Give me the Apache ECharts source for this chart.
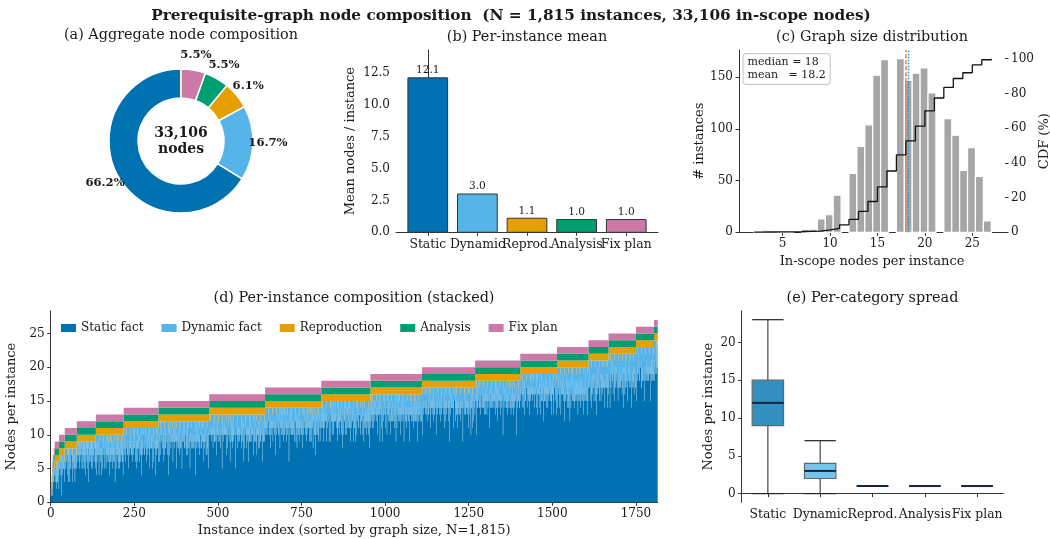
<!DOCTYPE html>
<html><head><meta charset="utf-8">
<script src="https://cdn.jsdelivr.net/npm/echarts@6/dist/echarts.min.js"></script>
<style>html,body{margin:0;padding:0;background:#fff}#c{width:1050px;height:539px}</style>
</head><body><div id="c"></div>
<script>
// ---------------- data ----------------
const categories   = ['Static', 'Dynamic', 'Reprod.', 'Analysis', 'Fix plan'];
const legendNames  = ['Static fact', 'Dynamic fact', 'Reproduction', 'Analysis', 'Fix plan'];
const aggregateCounts = [21920, 5529, 2020, 1822, 1815];   // total 33,106
const meanPerInstance = [12.1, 3.0, 1.1, 1.0, 1.0];
const graphSizes = [2,3,4,5,6,7,8,9,10,11,12,13,14,15,16,17,18,19,20,21,22,23,24,25,26,27];
const sizeCounts = [1,2,1,1,1,3,3,13,17,36,57,83,104,152,167,168,147,154,159,135,110,94,60,82,54,11];
const medianSize = 18;
const meanSize = 18.2;
// typical dynamic-fact count for each graph size
const typicalDynamic = [0,0,0,1,1,1,1,2,2,2,2,3,3,3,3,3,3,3,3,3,3,4,4,4,4,4];
// hand-read instance-to-instance wiggle of the dynamic layer
const dynamicWiggle = [0,1,0,-1,-1,2,0,-1,-1,1, 0,-3,-1,1,0,-1,3,-1,0,0, 1,-2,0,-1,2,-1,-1,0,1,0, 0,-1,4,-1,-1,1,-1,0,-3,0];
const dynamicJitter = [0,0,1,0,-1,0,0,0,1,0,0,-1,0,0,0,1,-1];
const reproCounts = [1,1,1,1,1,1,1,2,1,1,1,1,1,1,1,1,1,1,2,1,1,1,1];
// box statistics (e)
const boxMin    = [0, 0, 1, 1, 1];
const boxQ1     = [9, 2, 1, 1, 1];
const boxMedian = [12, 3, 1, 1, 1];
const boxQ3     = [15, 4, 1, 1, 1];
const boxMax    = [23, 7, 1, 1, 1];
// tick labels
const meanTicks  = [0, 2.5, 5, 7.5, 10, 12.5];
const sizeTicks  = [5, 10, 15, 20, 25];
const countTicks = [0, 50, 100, 150];
const cdfTicks   = [0, 20, 40, 60, 80, 100];
const indexTicks = [0, 250, 500, 750, 1000, 1250, 1500, 1750];
const stackTicks = [0, 5, 10, 15, 20, 25];
const spreadTicks = [0, 5, 10, 15, 20];

// ---------------- styles ----------------
const colors = ['#0072B2', '#56B4E9', '#E69F00', '#009E73', '#CC79A7'];
const boxFill = ['rgba(0,114,178,0.8)', 'rgba(86,180,233,0.8)', 'rgba(230,159,0,0.8)', 'rgba(0,158,115,0.8)', 'rgba(204,121,167,0.8)'];
const FONT = 'DejaVu Serif';
const TXT = '#1a1a1a';
const AX = '#333';

// ---------------- derived ----------------
const totalNodes = aggregateCounts.reduce((a, b) => a + b, 0);
const N = sizeCounts.reduce((a, b) => a + b, 0);
const nBins = 30, lo = graphSizes[0], hi = graphSizes[graphSizes.length - 1];
const bw = (hi - lo) / nBins;
const binCounts = new Array(nBins).fill(0);
graphSizes.forEach((s, i) => {
  const b = Math.min(nBins - 1, Math.floor((s - lo) * nBins / (hi - lo) + 1e-9));
  binCounts[b] += sizeCounts[i];
});
const histData = [];
binCounts.forEach((c, b) => { if (c > 0) histData.push([lo + b * bw, lo + (b + 1) * bw, c]); });
let cum = 0;
const cdfData = graphSizes.map((s, i) => { cum += sizeCounts[i]; return [s, cum / N * 100]; });
// per-instance layer values (sorted by graph size)
const layers = [[], [], [], [], []];
let idx = 0;
graphSizes.forEach((T, gi) => {
  for (let k = 0; k < sizeCounts[gi]; k++, idx++) {
    const f = 1, a = T >= 3 ? 1 : 0;
    let r = T >= 4 ? reproCounts[idx % reproCounts.length] : 0;
    let d = T >= 5 ? Math.max(0, typicalDynamic[gi] + dynamicWiggle[idx % dynamicWiggle.length] + dynamicJitter[idx % dynamicJitter.length]) : 0;
    let s = T - f - a - r - d;
    while (s < 1 && d > 0) { d--; s++; }
    while (s < 1 && r > 0) { r--; s++; }
    [s, d, r, a, f].forEach((v, li) => layers[li].push(v));
  }
});
const stackBottom = layers.map(() => []), stackTop = layers.map(() => []);
for (let i = 0; i < N; i++) {
  let acc = 0;
  for (let li = 0; li < layers.length; li++) {
    stackBottom[li].push(acc); acc += layers[li][i]; stackTop[li].push(acc);
  }
}
const histMax = Math.max(...binCounts) * 1.05;
const stackMax = hi * 1.05;
const bMin = Math.min(...boxMin), bMax = Math.max(...boxMax), bPad = (bMax - bMin) * 0.05;

// ---------------- helpers ----------------
function vAxis(extra) {
  const base = {
    type: 'value',
    axisLine: { show: true, lineStyle: { color: AX, width: 1 } },
    axisTick: { show: true, length: 3.5, lineStyle: { color: AX, width: 1 } },
    splitLine: { show: false },
    axisLabel: { color: TXT, fontFamily: FONT, fontSize: 12, margin: 6, hideOverlap: false, showMinLabel: true, showMaxLabel: true },
    nameLocation: 'middle',
    nameTextStyle: { color: TXT, fontFamily: FONT, fontSize: 13 }
  };
  for (const k in extra) {
    if (base[k] && typeof base[k] === 'object' && !Array.isArray(base[k]) && typeof extra[k] === 'object') base[k] = Object.assign({}, base[k], extra[k]);
    else base[k] = extra[k];
  }
  return base;
}
function txt(x, y, text, size, bold) {
  return { type: 'text', x: x, y: y, silent: true,
    style: { text: text, font: (bold ? 'bold ' : '') + size + 'px "' + FONT + '"', fill: TXT,
      textAlign: 'center', textVerticalAlign: 'middle', align: 'center', verticalAlign: 'middle' } };
}

const option = {
  animation: false,
  backgroundColor: '#fff',
  textStyle: { fontFamily: FONT },
  grid: [
    { left: 396, top: 50, width: 262, height: 182.3, containLabel: false, outerBoundsMode: 'none' },
    { left: 739, top: 50, width: 266, height: 182.3, containLabel: false, outerBoundsMode: 'none' },
    { left: 50.7, top: 311, width: 607, height: 191.3, containLabel: false, outerBoundsMode: 'none' },
    { left: 741.7, top: 311, width: 261.6, height: 191.3, containLabel: false, outerBoundsMode: 'none' }
  ],
  xAxis: [
    vAxis({ gridIndex: 0, min: -0.64, max: 4.64,
      axisLabel: { show: false },
      axisTick: { customValues: [0, 1, 2, 3, 4] } }),
    vAxis({ gridIndex: 1, min: 0.4, max: 28.45,
      axisLabel: { customValues: sizeTicks }, axisTick: { customValues: sizeTicks },
      name: 'In-scope nodes per instance', nameGap: 23 }),
    vAxis({ gridIndex: 2, min: 0, max: N,
      axisLabel: { customValues: indexTicks, formatter: v => String(v) }, axisTick: { customValues: indexTicks },
      name: 'Instance index (sorted by graph size, N=' + N.toLocaleString('en-US') + ')', nameGap: 22 }),
    { type: 'category', gridIndex: 3, data: categories, boundaryGap: true,
      axisLine: { show: true, lineStyle: { color: AX, width: 1 } },
      axisTick: { show: true, alignWithLabel: true, length: 3.5, lineStyle: { color: AX } },
      axisLabel: { color: TXT, fontFamily: FONT, fontSize: 12.4, margin: 6, interval: 0, hideOverlap: false },
      splitLine: { show: false } }
  ],
  yAxis: [
    vAxis({ gridIndex: 0, min: 0, max: 14.28,
      axisLabel: { customValues: meanTicks, formatter: v => v.toFixed(1) }, axisTick: { customValues: meanTicks },
      name: 'Mean nodes / instance', nameGap: 39 }),
    vAxis({ gridIndex: 1, min: 0, max: histMax,
      axisLabel: { customValues: countTicks }, axisTick: { customValues: countTicks },
      name: '# instances', nameGap: 32 }),
    vAxis({ gridIndex: 1, position: 'right', min: 0, max: 105,
      axisLine: { show: false },
      axisLabel: { customValues: cdfTicks }, axisTick: { customValues: cdfTicks },
      name: 'CDF (%)', nameGap: 32, nameRotate: 90 }),
    vAxis({ gridIndex: 2, min: 0, max: stackMax,
      axisLabel: { customValues: stackTicks }, axisTick: { customValues: stackTicks },
      name: 'Nodes per instance', nameGap: 26 }),
    vAxis({ gridIndex: 3, min: bMin - bPad, max: bMax + bPad,
      axisLabel: { customValues: spreadTicks }, axisTick: { customValues: spreadTicks },
      name: 'Nodes per instance', nameGap: 27 })
  ],
  legend: {
    data: legendNames, left: 61, top: 322, orient: 'horizontal', padding: 0,
    icon: 'rect', itemWidth: 15, itemHeight: 8, itemGap: 18,
    textStyle: { fontFamily: FONT, fontSize: 12, color: TXT }, selectedMode: false
  },
  series: [
    // (a) donut
    { type: 'pie', center: [181, 141], radius: [43, 72], startAngle: 90, clockwise: false,
      silent: true, label: { show: false }, labelLine: { show: false },
      itemStyle: { borderColor: '#fff', borderWidth: 1.5 },
      data: categories.map((c, i) => ({ name: 'pie-' + c, value: aggregateCounts[i], itemStyle: { color: colors[i] } })) },
    { type: 'pie', center: [181, 141], radius: [78, 90], startAngle: 90, clockwise: false,
      silent: true, avoidLabelOverlap: false, minShowLabelAngle: 0,
      labelLayout: { hideOverlap: false },
      itemStyle: { color: 'rgba(0,0,0,0)' },
      label: { show: true, position: 'inside', formatter: p => p.percent.toFixed(1) + '%',
        fontFamily: FONT, fontWeight: 'bold', fontSize: 11.6, color: TXT },
      labelLine: { show: false },
      data: categories.map((c, i) => ({ name: 'pct-' + c, value: aggregateCounts[i] })) },
    // (b) mean bars with value labels and category labels
    { type: 'custom', xAxisIndex: 0, yAxisIndex: 0, silent: true, clip: false,
      data: meanPerInstance.map((v, i) => [i, v]), encode: { x: 0, y: 1 },
      renderItem: (params, api) => {
        const i = api.value(0), v = api.value(1);
        const tl = api.coord([i - 0.4, v]), br = api.coord([i + 0.4, 0]);
        const cx = (tl[0] + br[0]) / 2;
        return { type: 'group', children: [
          { type: 'rect', shape: { x: tl[0], y: tl[1], width: br[0] - tl[0], height: br[1] - tl[1] },
            style: { fill: colors[i], stroke: '#333', lineWidth: 1 } },
          { type: 'text', x: cx, y: tl[1] - 2,
            style: { text: v.toFixed(1), font: '10.6px "' + FONT + '"', fill: TXT,
              textAlign: 'center', textVerticalAlign: 'bottom', align: 'center', verticalAlign: 'bottom' } },
          { type: 'text', x: cx, y: br[1] + 6,
            style: { text: categories[i], font: '12.4px "' + FONT + '"', fill: TXT,
              textAlign: 'center', textVerticalAlign: 'top', align: 'center', verticalAlign: 'top' } }
        ] };
      } },
    // (c) histogram
    { type: 'custom', xAxisIndex: 1, yAxisIndex: 1, silent: true,
      data: histData, encode: { x: [0, 1], y: 2 },
      renderItem: (params, api) => {
        const tl = api.coord([api.value(0), api.value(2)]), br = api.coord([api.value(1), 0]);
        return { type: 'rect', shape: { x: tl[0], y: tl[1], width: br[0] - tl[0], height: br[1] - tl[1] },
          style: { fill: '#a6a6a6', stroke: '#fff', lineWidth: 1.2 } };
      } },
    // (c) CDF
    { type: 'line', xAxisIndex: 1, yAxisIndex: 2, data: cdfData, step: 'end', symbol: 'none', silent: true,
      lineStyle: { color: '#111', width: 1.3 }, z: 5,
      markLine: { silent: true, symbol: 'none', label: { show: false },
        data: [
          { xAxis: medianSize, lineStyle: { color: '#E8873A', type: [4, 2], width: 1.6 } },
          { xAxis: meanSize, lineStyle: { color: '#1f8fd6', type: [1.5, 1.5], width: 1.4 } }
        ] } },
    // (d) stacked layers, one filled outline per layer
    ...legendNames.map((nm, li) => ({
      type: 'custom', name: nm, xAxisIndex: 2, yAxisIndex: 3, silent: true,
      itemStyle: { color: colors[li] },
      data: [[0, 0]], encode: { x: 0, y: 1 },
      renderItem: (params, api) => {
        const top = [], bot = [];
        for (let i = 0; i < N; i++) {
          top.push(api.coord([i, stackTop[li][i]]), api.coord([i + 1, stackTop[li][i]]));
          bot.push(api.coord([i, stackBottom[li][i]]), api.coord([i + 1, stackBottom[li][i]]));
        }
        return { type: 'polygon', shape: { points: top.concat(bot.reverse()) },
          style: { fill: colors[li], stroke: null } };
      }
    })),
    // (e) box plots
    { type: 'custom', xAxisIndex: 3, yAxisIndex: 4, silent: true,
      data: categories.map((c, i) => [i, boxMin[i], boxQ1[i], boxMedian[i], boxQ3[i], boxMax[i]]),
      encode: { x: 0, y: [1, 2, 3, 4, 5] },
      renderItem: (params, api) => {
        const i = api.value(0);
        const cx = api.coord([i, 0])[0];
        const w = api.size([1, 0])[0] * 0.6;
        const y = k => api.coord([i, api.value(k)])[1];
        const yMin = y(1), yQ1 = y(2), yMed = y(3), yQ3 = y(4), yMax = y(5);
        const ws = { stroke: '#555', lineWidth: 1.3 };
        return { type: 'group', children: [
          { type: 'line', shape: { x1: cx, y1: yQ3, x2: cx, y2: yMax }, style: ws },
          { type: 'line', shape: { x1: cx, y1: yQ1, x2: cx, y2: yMin }, style: ws },
          { type: 'line', shape: { x1: cx - w / 2, y1: yMax, x2: cx + w / 2, y2: yMax }, style: { stroke: '#222', lineWidth: 1.2 } },
          { type: 'line', shape: { x1: cx - w / 2, y1: yMin, x2: cx + w / 2, y2: yMin }, style: { stroke: '#222', lineWidth: 1.2 } },
          { type: 'rect', shape: { x: cx - w / 2, y: yQ3, width: w, height: yQ1 - yQ3 },
            style: { fill: boxFill[i], stroke: '#666', lineWidth: 1.2 } },
          { type: 'line', shape: { x1: cx - w / 2, y1: yMed, x2: cx + w / 2, y2: yMed }, style: { stroke: '#15263a', lineWidth: 2 } }
        ] };
      } }
  ],
  graphic: [
    txt(511, 16, 'Prerequisite-graph node composition  (N = ' + N.toLocaleString('en-US') + ' instances, ' + totalNodes.toLocaleString('en-US') + ' in-scope nodes)', 15.3, true),
    txt(181, 35, '(a) Aggregate node composition', 14.4, false),
    txt(527, 37.5, '(b) Per-instance mean', 14.4, false),
    txt(872, 37.5, '(c) Graph size distribution', 14.4, false),
    txt(354, 298, '(d) Per-instance composition (stacked)', 14.4, false),
    txt(872.5, 298, '(e) Per-category spread', 14.4, false),
    { type: 'text', x: 181, y: 141, silent: true,
      style: { text: totalNodes.toLocaleString('en-US') + '\nnodes', font: 'bold 14px "' + FONT + '"', fill: TXT, lineHeight: 16,
        textAlign: 'center', textVerticalAlign: 'middle', align: 'center', verticalAlign: 'middle' } },
    { type: 'text', x: 743.5, y: 54, silent: true, z: 100,
      style: { text: 'median = ' + medianSize + '\nmean   = ' + meanSize.toFixed(1), font: '11px "' + FONT + '"', fill: TXT,
        lineHeight: 13, padding: [2, 4, 2, 4], backgroundColor: 'rgba(255,255,255,0.85)',
        borderColor: '#c8c8c8', borderWidth: 1, borderRadius: 3,
        textAlign: 'left', textVerticalAlign: 'top', align: 'left', verticalAlign: 'top' } }
  ]
};
const chart = echarts.init(document.getElementById('c'), null, { renderer: 'canvas', width: 1050, height: 539 });
chart.setOption(option);
</script>
</body></html>
